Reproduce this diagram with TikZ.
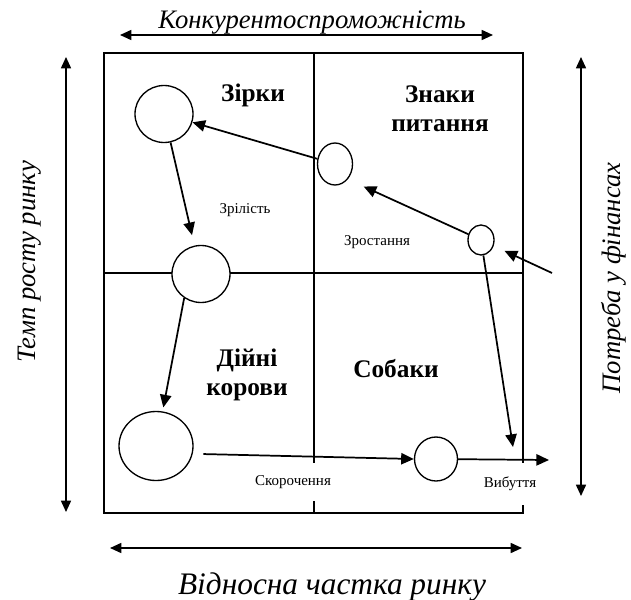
\documentclass[tikz,border=0pt]{standalone}
\usepackage{fontspec}
\setmainfont{Liberation Serif}
\usetikzlibrary{arrows.meta,shapes.geometric}

\tikzset{
  quad/.style={line width=1.5pt},
  flow/.style={line width=1.3pt, -{Triangle[length=9.5pt,width=8.5pt]}},
  axis/.style={line width=1.2pt, {Triangle[length=8.5pt,width=7.5pt]}-{Triangle[length=8.5pt,width=7.5pt]}},
  cell/.style={draw, ellipse, fill=white, line width=1pt, inner sep=0pt},
  group/.style={font=\fontsize{19}{21.75}\selectfont\bfseries, align=center},
  stage/.style={font=\fontsize{11.25}{13}\selectfont},
  axlabel/.style={font=\fontsize{20}{24}\selectfont\itshape}
}

\begin{document}
\begin{tikzpicture}[x=0.75pt,y=0.75pt,yscale=-1,xscale=1]
\useasboundingbox (0,0) rectangle (631,599);

%Shape: Rectangle
\draw [quad] (104,53) rectangle (523,513);
%Straight Lines
\draw [quad] (314,53) -- (314,513);
%Straight Lines
\draw [quad] (104,273) -- (523,273);

%Shape: Ellipse
\node [cell, minimum width=43.5pt, minimum height=42.75pt] (star) at (164,114) {};
\node [cell, minimum width=26.25pt, minimum height=31.5pt] (quest) at (335,164) {};
\node [cell, minimum width=19.5pt, minimum height=22.5pt] (small) at (481,240) {};
\node [cell, minimum width=43.5pt, minimum height=42.75pt] (mid) at (201,274) {};
\node [cell, minimum width=55.5pt, minimum height=51.75pt] (cow) at (156,446) {};
\node [cell, minimum width=32.25pt, minimum height=33pt] (dog) at (436,459) {};

%Text Node
\node [group, anchor=base] (stars) at (253,102) {Зірки};
\node [group, anchor=base] (questions) at (440,132) {Знаки\\питання};
\node [group, anchor=base] (cows) at (247,395) {Дійні\\корови};
\node [group, anchor=base] (dogs) at (396,377) {Собаки};

\node [stage, anchor=base] (mature) at (245,213) {Зрілість};
\node [stage, anchor=base] (growing) at (377,245) {Зростання};
\node [stage, fill=white, minimum height=28pt, inner xsep=2pt] (decline) at (293,482) {Скорочення};
\node [stage, fill=white, minimum height=31pt, inner xsep=2pt] (leave) at (510,484) {Вибуття};

%Axes
\coordinate (t1) at (120,35);
\coordinate (t2) at (493,35);
\coordinate (l1) at (66,57);
\coordinate (l2) at (66,512);
\coordinate (r1) at (581,57);
\coordinate (r2) at (581,496);
\coordinate (b1) at (110,548);
\coordinate (b2) at (522,548);
\draw [axis] (t1) -- (t2);
\draw [axis] (l1) -- (l2);
\draw [axis] (r1) -- (r2);
\draw [axis] (b1) -- (b2);

\node [axlabel, anchor=base] (compet) at (312,29) {Конкурентоспроможність};
\node [axlabel, font=\fontsize{23.5}{28}\selectfont\itshape, anchor=base] (share) at (332,594) {Відносна частка ринку};
\node [axlabel, rotate=90, anchor=base] (growth) at (35,262) {Темп росту ринку};
\node [axlabel, rotate=90, anchor=base] (finance) at (620,278) {Потреба у фінансах};

%Arrows
\coordinate (fin) at (552,273);
\coordinate (drop) at (513,447);
\coordinate (exit) at (549,460);
\draw [flow] (quest) -- (star);
\draw [flow, shorten >=8pt] (star) -- (mid);
\draw [flow, shorten >=13pt] (small) -- (quest.south east);
\draw [flow, shorten >=9pt] (fin) -- (small);
\draw [flow] (small) -- (drop);
\draw [flow, shorten >=3pt] (mid.-125) -- (cow);
\draw [flow, shorten <=8pt] (cow.-12) -- (dog.west);
\draw [flow] (dog) -- (exit);

\end{tikzpicture}
\end{document}
